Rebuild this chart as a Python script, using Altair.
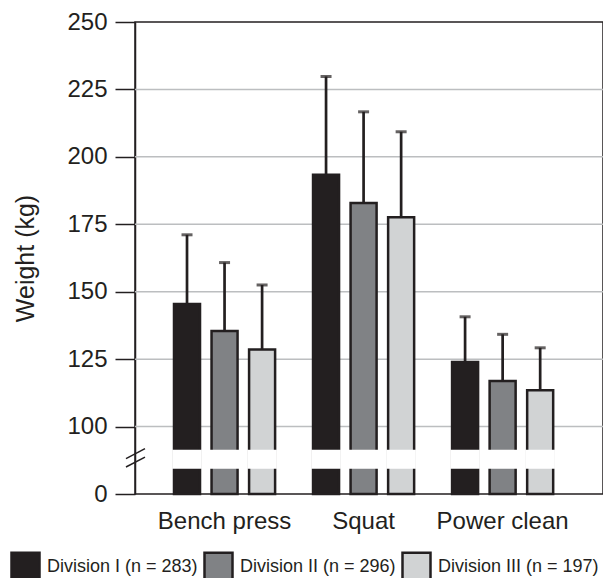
import altair as alt
import pandas as pd

# ---- data ----
lifts = ["Bench press", "Squat", "Power clean"]
divisions = ["Division I (n = 283)", "Division II (n = 296)", "Division III (n = 197)"]
mean_div1 = [145.4, 193.4, 123.9]
mean_div2 = [135.4, 182.9, 116.9]
mean_div3 = [128.6, 177.6, 113.5]
sd_div1 = [25.7, 36.4, 16.8]
sd_div2 = [25.4, 33.8, 17.3]
sd_div3 = [23.9, 31.7, 15.7]
y_tick_labels = [0, 100, 125, 150, 175, 200, 225, 250]
grid_values = [100, 125, 150, 175, 200, 225]
div_colors = ["#231f20", "#808285", "#d1d3d4"]

INK = "#231f20"
ZERO_POS = 75  # broken axis: 0 is drawn one tick step below 100

rows = []
for div, means, sds in zip(divisions, [mean_div1, mean_div2, mean_div3], [sd_div1, sd_div2, sd_div3]):
    for lift, m, s in zip(lifts, means, sds):
        rows.append({"lift": lift, "division": div, "mean": m, "upper": m + s})
df = pd.DataFrame(rows)
grid_df = pd.DataFrame({"g": grid_values})

tick_positions = [ZERO_POS if v == 0 else v for v in y_tick_labels]
yscale = alt.Scale(domain=[ZERO_POS, 250], nice=False, zero=False)
y_axis = alt.Axis(
    values=tick_positions,
    labelExpr=f"datum.value == {ZERO_POS} ? '0' : datum.label",
    grid=False,
    tickSize=20,
    tickWidth=1.5,
    tickColor=INK,
    domainColor=INK,
    domainWidth=1.5,
    labelFontSize=24,
    labelPadding=8,
    labelColor=INK,
    titleFontSize=25,
    titleFontWeight="normal",
    titleColor=INK,
    titlePadding=28,
)
Y_TITLE = "Weight (kg)"

x_enc = alt.X(
    "lift:N",
    sort=lifts,
    scale=alt.Scale(domain=lifts, paddingInner=0.19, paddingOuter=0.278, align=0.43),
    axis=alt.Axis(title=None, labelAngle=0, ticks=False, tickSize=0, domain=False,
                  labelFontSize=24, labelPadding=15, labelColor=INK),
)
xo_enc = alt.XOffset(
    "division:N",
    sort=divisions,
    scale=alt.Scale(domain=divisions, paddingInner=0.307, paddingOuter=0.1535),
)

base = alt.Chart(df)

grid = alt.Chart(grid_df).mark_rule(color="#bcbec0", strokeWidth=1.5).encode(
    y=alt.Y("g:Q", scale=yscale, axis=y_axis, title=Y_TITLE)
)

bars = base.mark_bar(stroke=INK, strokeWidth=2.5).encode(
    x=x_enc,
    xOffset=xo_enc,
    y=alt.Y("mean:Q", scale=yscale, title=Y_TITLE, axis=y_axis),
    y2=alt.datum(ZERO_POS),
    fill=alt.Fill(
        "division:N",
        sort=divisions,
        scale=alt.Scale(domain=divisions, range=div_colors),
        legend=alt.Legend(
            orient="none",
            legendX=-125,
            legendY=529,
            direction="horizontal",
            title=None,
            symbolType="square",
            symbolSize=784,
            symbolStrokeColor=INK,
            symbolStrokeWidth=2.5,
            labelFontSize=18,
            labelOffset=6,
            labelLimit=400,
            labelColor=INK,
            columnPadding=1,
            padding=0,
        ),
    ),
)

gap = base.mark_bar(fill="white", stroke="white", strokeWidth=3.5).encode(
    x=x_enc,
    xOffset=xo_enc,
    y=alt.datum(85.0),
    y2=alt.datum(90.8),
)

err = base.mark_rule(color=INK, strokeWidth=2.7).encode(
    x=x_enc,
    xOffset=xo_enc,
    y=alt.Y("mean:Q", scale=yscale, title=Y_TITLE, axis=y_axis),
    y2="upper:Q",
)

caps = base.mark_tick(color=INK, size=11, thickness=3).encode(
    x=x_enc,
    xOffset=xo_enc,
    y=alt.Y("upper:Q", scale=yscale, title=Y_TITLE, axis=y_axis),
)

one = alt.Data(values=[{}])
slash1 = alt.Chart(one).mark_rule(color=INK, strokeWidth=1.5).encode(
    x=alt.value(-9), x2=alt.value(10), y=alt.datum(88.1), y2=alt.datum(91.8)
)
slash2 = alt.Chart(one).mark_rule(color=INK, strokeWidth=1.5).encode(
    x=alt.value(-9), x2=alt.value(10), y=alt.datum(85.0), y2=alt.datum(88.7)
)

chart = (
    alt.layer(grid, bars, gap, err, caps, slash1, slash2)
    .properties(
        width=468,
        height=472,
        autosize=alt.AutoSizeParams(type="none"),
        padding={"left": 127, "top": 14, "right": 0, "bottom": 84},
    )
    .configure(font="Liberation Sans")
    .configure_view(stroke=INK, strokeWidth=1.5)
)

chart.save("out.html", embed_options={"renderer": "svg", "actions": False})
